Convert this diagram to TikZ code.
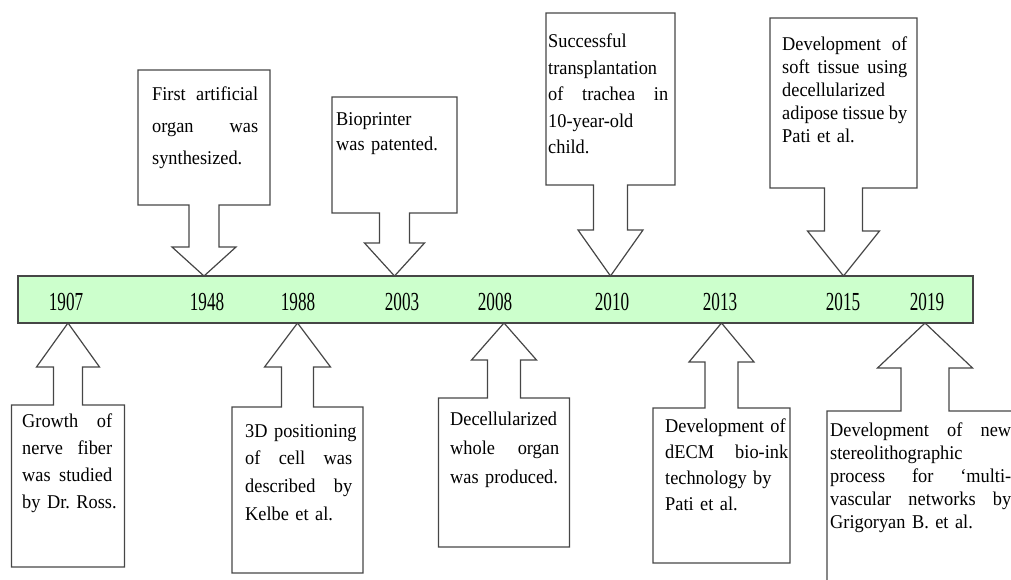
\documentclass[tikz,border=0pt]{standalone}
\usepackage{fontspec}
\setmainfont[FakeStretch = 0.94]{Liberation Serif}
\newfontfamily\yearfont[FakeStretch = 0.66]{Liberation Serif}
\definecolor{barfill}{RGB}{204,255,204}
\definecolor{edgegray}{RGB}{70,70,70}
\hyphenpenalty=10000

\begin{document}
\begin{tikzpicture}[x = 1pt, y = -1pt,
        event/.style = {anchor = north west, inner sep = 0pt, align = left}]
        \useasboundingbox (0,0) rectangle (1011,580);
        \clip (0,0) rectangle (1011,580);
        % timeline bar
        \node[draw = edgegray, line width = 1.2pt, fill = barfill, inner sep = 0pt,
            minimum width = 955pt, minimum height = 47pt] (bar) at (495.5,299.5) {};
        \begin{scope}[every node/.append style = {font = \yearfont\fontsize{26}{26}\selectfont}]
            \foreach \yr/\x in {1907/66, 1948/207, 1988/298, 2003/402, 2008/495, 2010/612, 2013/720, 2015/843, 2019/927} {
                \node (y\yr) at (\x,302) {\yr};
            }
        \end{scope}
        % callout boxes with their arrows
        \begin{scope}[line width = 1.2pt, draw = edgegray]
            \foreach \cx/\w/\far/\near/\sh/\hh/\hb/\tip in {
                    204/66/70/205/15/32/247/276, 394.5/62.5/97/213/15/30/243/276,
                    610.5/64.5/13/185/17/32.5/230/276, 843.5/73.5/18/188/19/36/231/276,
                    68/56.5/567/405/14.5/31.5/367/323, 297.5/65.5/573/407/16/33/367/323,
                    504/65.5/547/398/16.5/32.5/360/323, 721.5/68.5/563/408/16.5/32.5/362/323,
                    925/98/600/411/24/47.5/368/323} {
                \draw (\cx-\w,\far) -- (\cx+\w,\far) -- (\cx+\w,\near) -- (\cx+\sh,\near)
                    -- (\cx+\sh,\hb) -- (\cx+\hh,\hb) -- (\cx,\tip) -- (\cx-\hh,\hb)
                    -- (\cx-\sh,\hb) -- (\cx-\sh,\near) -- (\cx-\w,\near) -- cycle;
            }
        \end{scope}
        % texts above the bar
        \node[event, text width = 106pt, font = \fontsize{19.5}{31.7}\selectfont] (ev1948) at (152,87)
            {First\hfill artificial\\ organ\hfill was\\ synthesized.};
        \node[event, text width = 115pt, font = \fontsize{19.5}{25}\selectfont] (ev2003) at (336,112)
            {Bioprinter\\ was~patented.};
        \node[event, text width = 120pt, font = \fontsize{19.5}{26.4}\selectfont] (ev2010) at (548,34)
            {Successful\\ transplantation\\ of\hfill trachea\hfill in\\ 10-year-old\\ child.};
        \node[event, text width = 125pt, font = \fontsize{19.5}{23}\selectfont] (ev2015) at (782,37)
            {Development\hfill of\\ soft\hfill tissue\hfill using\\ decellularized\\ adipose\hfill tissue\hfill by\\ Pati~et~al.};
        % texts below the bar
        \node[event, text width = 90pt, font = \fontsize{19.5}{26.7}\selectfont] (ev1907) at (22,414)
            {Growth\hfill of\\ nerve\hfill fiber\\ was\hfill studied\\ by~Dr.~Ross.};
        \node[event, text width = 107pt, font = \fontsize{19.5}{27.7}\selectfont] (ev1988) at (245,424)
            {3D~positioning\\ of\hfill cell\hfill was\\ described\hfill by\\ Kelbe~et~al.};
        \node[event, text width = 109pt, font = \fontsize{19.5}{29}\selectfont] (ev2008) at (450,412)
            {Decellularized\\ whole\hfill organ\\ was~produced.};
        \node[event, text width = 123pt, font = \fontsize{19.5}{26}\selectfont] (ev2013) at (665,419)
            {Development~of\\ dECM\hfill bio-ink\\ technology~by\\ Pati~et~al.};
        \node[event, text width = 181pt, font = \fontsize{19.5}{23}\selectfont] (ev2019) at (830,423)
            {Development\hfill of\hfill new\\ stereolithographic\\ process\hfill for\hfill `multi-\\ vascular\hfill networks\hfill by\\ Grigoryan~B.~et~al.};
    \end{tikzpicture}
\end{document}
